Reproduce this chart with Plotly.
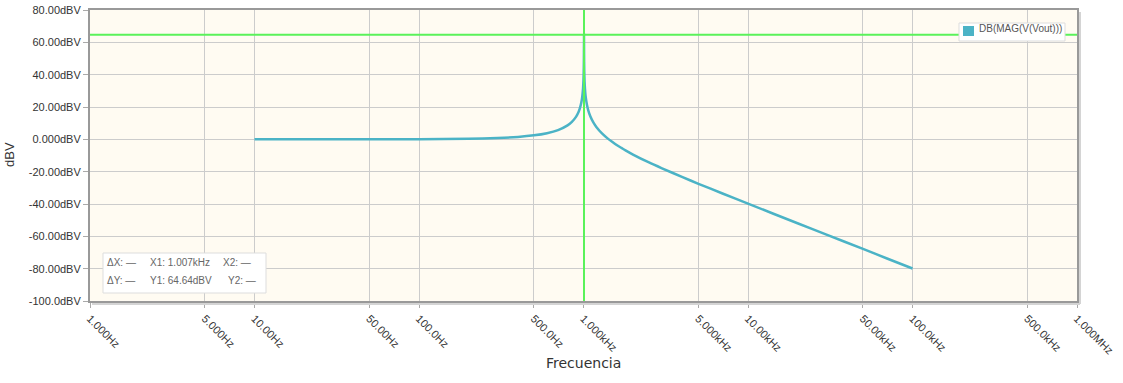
import plotly.graph_objects as go

# Frequency response
freq_hz = [10, 20, 50, 100, 200, 300, 400, 500, 600, 700, 800, 850, 900, 930, 950, 970, 980,
           990, 995, 1000, 1003, 1005, 1006, 1007, 1008, 1009, 1011, 1015, 1020, 1030, 1050,
           1070, 1100, 1150, 1200, 1300, 1400, 1500, 1600, 1700, 1800, 2000, 2500, 3000,
           4000, 5000, 7000, 10000, 20000, 30000, 50000, 70000, 100000]
mag_dbv = [0.0, 0.0, 0.02, 0.09, 0.36, 0.81, 1.49, 2.46, 3.81, 5.73, 8.66, 10.8, 13.9, 16.6,
           19.2, 22.8, 25.5, 29.5, 32.5, 37.2, 42.0, 48.0, 53.7, 64.64, 53.7, 48.0, 42.0,
           35.9, 31.7, 26.7, 21.2, 17.8, 14.3, 10.3, 7.5, 3.5, 0.6, -1.7, -3.7, -5.3, -6.8,
           -9.4, -14.3, -17.9, -23.4, -27.5, -33.5, -39.8, -51.9, -58.9, -67.8, -73.7, -79.9]

# Cursor
cursor_x1_hz = 1007
cursor_y1_dbv = 64.64

x_tick_vals = [1, 5, 10, 50, 100, 500, 1000, 5000, 10000, 50000, 100000, 500000, 1000000]
x_tick_text = ["1.000Hz", "5.000Hz", "10.00Hz", "50.00Hz", "100.0Hz", "500.0Hz", "1.000kHz",
               "5.000kHz", "10.00kHz", "50.00kHz", "100.0kHz", "500.0kHz", "1.000MHz"]
y_tick_vals = [80, 60, 40, 20, 0, -20, -40, -60, -80, -100]
y_tick_text = ["80.00dBV", "60.00dBV", "40.00dBV", "20.00dBV", "0.000dBV", "-20.00dBV",
               "-40.00dBV", "-60.00dBV", "-80.00dBV", "-100.0dBV"]

series_name = "DB(MAG(V(Vout)))"
x_title = "Frecuencia"
y_title = "dBV"
curve_color = "#4bb3c6"
cursor_color = "#5af25a"

W, H = 1123, 383
ML, MR, MT, MB = 90, 46, 10, 82
PW, PH = W - ML - MR, H - MT - MB


def px(x):
    return (x - ML) / PW


def py(y):
    return (H - MB - y) / PH


fig = go.Figure()

fig.add_trace(go.Scatter(x=freq_hz, y=mag_dbv, mode="lines", name=series_name,
                         line=dict(color=curve_color, width=2.5, shape="spline",
                                   smoothing=0.5),
                         showlegend=False, hoverinfo="x+y"))

# cursor lines
fig.add_shape(type="line", xref="x", yref="paper", x0=cursor_x1_hz, x1=cursor_x1_hz,
              y0=0, y1=1, line=dict(color=cursor_color, width=2), layer="above")
fig.add_shape(type="line", xref="paper", yref="y", x0=0, x1=1,
              y0=cursor_y1_dbv, y1=cursor_y1_dbv, line=dict(color=cursor_color, width=2),
              layer="above")

# right/bottom shadow of plot frame
fig.add_shape(type="line", xref="paper", yref="paper", x0=px(1080), x1=px(1080),
              y0=py(304), y1=py(12), line=dict(color="#d4d4d4", width=2))
fig.add_shape(type="line", xref="paper", yref="paper", x0=px(92), x1=px(1080),
              y0=py(304), y1=py(304), line=dict(color="#d4d4d4", width=2))

# legend box (drawn)
fig.add_shape(type="rect", xref="paper", yref="paper", x0=px(959), x1=px(1065),
              y0=py(41), y1=py(23), fillcolor="white",
              line=dict(color="#dddddd", width=1), layer="above")
fig.add_shape(type="rect", xref="paper", yref="paper", x0=px(963), x1=px(974),
              y0=py(36), y1=py(26), fillcolor=curve_color,
              line=dict(color=curve_color, width=0), layer="above")
fig.add_annotation(x=px(977), y=py(29), xref="paper", yref="paper", text=series_name,
                   showarrow=False, xanchor="left", yanchor="middle",
                   font=dict(family="Liberation Sans, Arial", size=10, color="#555555"))

# cursor readout box
fig.add_shape(type="rect", xref="paper", yref="paper", x0=px(103), x1=px(266),
              y0=py(293), y1=py(253), fillcolor="white",
              line=dict(color="#dddddd", width=1), layer="above")
readout = [
    (105, 262, "ΔX: —"), (148, 262, "X1: 1.007kHz"), (221, 262, "X2: —"),
    (105, 280, "ΔY: —"), (148, 280, "Y1: 64.64dBV"), (226, 280, "Y2: —"),
]
for xx, yy, t in readout:
    fig.add_annotation(x=px(xx), y=py(yy), xref="paper", yref="paper", text=t,
                       showarrow=False, xanchor="left", yanchor="middle",
                       font=dict(family="Liberation Sans, Arial", size=10, color="#666666"))

# axis titles
fig.add_annotation(x=px(583), y=py(363), xref="paper", yref="paper", text=x_title,
                   showarrow=False, xanchor="center", yanchor="middle",
                   font=dict(family="DejaVu Sans, Verdana", size=14, color="#333333"))
fig.add_annotation(x=px(9), y=py(155), xref="paper", yref="paper", text=y_title,
                   showarrow=False, xanchor="center", yanchor="middle", textangle=-90,
                   font=dict(family="Liberation Sans, Arial", size=13, color="#333333"))

fig.update_layout(
    width=W, height=H,
    margin=dict(l=ML, r=MR, t=MT, b=MB, autoexpand=False),
    paper_bgcolor="white",
    plot_bgcolor="#fffbf2",
    font=dict(family="Liberation Sans, Arial", size=11, color="#333333"),
    showlegend=False,
)

fig.update_xaxes(
    type="log", range=[0, 6], automargin=False,
    tickvals=x_tick_vals, ticktext=x_tick_text, tickangle=45,
    showgrid=True, gridcolor="#cccccc", gridwidth=1,
    showline=True, linecolor="#999999", linewidth=2, mirror=True,
    ticks="outside", ticklen=5, tickcolor="#aaaaaa",
    tickfont=dict(size=11, color="#333333"),
    zeroline=False,
)
fig.update_yaxes(
    range=[-100, 80], automargin=False,
    tickvals=y_tick_vals, ticktext=y_tick_text,
    showgrid=True, gridcolor="#cccccc", gridwidth=1,
    showline=True, linecolor="#999999", linewidth=2, mirror=True,
    ticks="outside", ticklen=5, tickcolor="#aaaaaa",
    tickfont=dict(size=11, color="#333333"),
    zeroline=False,
)

fig.write_html("out.html", config={"displayModeBar": False})

# remove the default page margin so the figure sits at the window's top-left corner
with open("out.html", "r", encoding="utf-8") as f:
    html = f.read()
html = html.replace("<head>", "<head><style>html,body{margin:0;padding:0;overflow:hidden;}</style>", 1)
with open("out.html", "w", encoding="utf-8") as f:
    f.write(html)
